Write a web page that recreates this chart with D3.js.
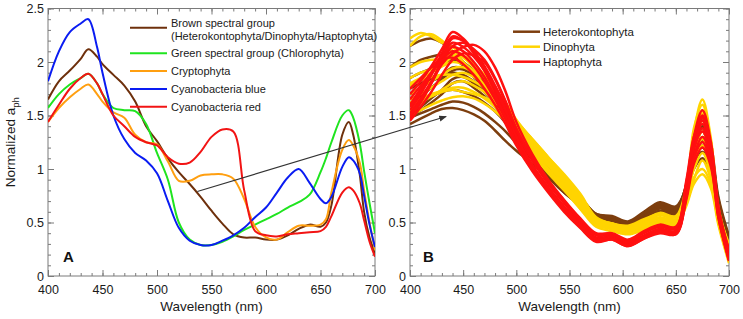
<!DOCTYPE html>
<html>
<head>
<meta charset="utf-8">
<script src="https://cdnjs.cloudflare.com/ajax/libs/d3/7.8.5/d3.min.js"></script>
<style>
body{margin:0;background:#fff;}
svg{display:block;font-family:"Liberation Sans",Arial,sans-serif;}
</style>
</head>
<body>
<div id="chart"></div>
<script>
// panel A: mean spectra per spectral group
const wlA = [400,410,420,430,437,445,450,460,470,480,490,500,510,520,530,540,550,560,570,580,590,600,610,620,630,640,650,655,660,670,676,680,686,690,695,700];
const brownA = [1.65,1.82,1.92,2.03,2.12,2.05,1.98,1.88,1.78,1.63,1.40,1.26,1.10,0.97,0.86,0.74,0.61,0.49,0.39,0.36,0.36,0.34,0.34,0.38,0.44,0.48,0.46,0.50,0.66,1.32,1.44,1.32,0.95,0.60,0.36,0.21];
const greenA = [1.57,1.70,1.79,1.85,1.89,1.80,1.70,1.57,1.55,1.54,1.42,1.15,0.90,0.50,0.34,0.29,0.29,0.32,0.37,0.43,0.48,0.53,0.58,0.64,0.69,0.76,0.97,1.10,1.25,1.50,1.55,1.48,1.24,0.98,0.68,0.40];
const cryptoA = [1.44,1.57,1.67,1.75,1.79,1.70,1.63,1.53,1.48,1.32,1.25,1.23,1.07,0.89,0.89,0.94,0.95,0.95,0.91,0.72,0.46,0.36,0.34,0.41,0.47,0.47,0.48,0.53,0.78,1.18,1.27,1.22,1.06,0.80,0.50,0.24];
const cyanoBlueA = [1.82,2.10,2.28,2.36,2.40,2.14,1.90,1.50,1.28,1.15,1.08,0.96,0.70,0.45,0.33,0.29,0.29,0.33,0.38,0.45,0.55,0.64,0.78,0.92,1.00,0.87,0.72,0.68,0.74,1.02,1.11,1.08,0.96,0.75,0.48,0.27];
const cyanoRedA = [1.44,1.60,1.75,1.85,1.89,1.80,1.70,1.50,1.40,1.30,1.25,1.22,1.11,1.05,1.06,1.16,1.30,1.37,1.35,0.80,0.42,0.38,0.37,0.39,0.40,0.41,0.42,0.46,0.56,0.78,0.83,0.80,0.68,0.52,0.32,0.18];
const namesA = ["Brown spectral group", "Green spectral group (Chlorophyta)", "Cryptophyta", "Cyanobacteria blue", "Cyanobacteria red"];
const subNameA = "(Heterokontophyta/Dinophyta/Haptophyta)";

// panel B: individual spectra
const wlB = [400,410,420,430,440,450,460,470,480,490,500,515,530,545,560,575,590,605,620,635,650,660,667,675,683,690,700];
const heteroB = [
  [1.42,1.47,1.52,1.56,1.57,1.55,1.51,1.45,1.36,1.26,1.17,1.05,0.92,0.78,0.66,0.54,0.52,0.46,0.54,0.60,0.58,0.76,1.00,1.10,0.95,0.60,0.30],
  [1.48,1.52,1.56,1.60,1.63,1.62,1.58,1.52,1.44,1.35,1.24,1.09,0.95,0.82,0.70,0.56,0.54,0.48,0.57,0.65,0.62,0.80,1.06,1.16,0.99,0.62,0.31],
  [1.55,1.62,1.68,1.72,1.74,1.72,1.68,1.62,1.54,1.43,1.28,1.10,0.95,0.81,0.69,0.56,0.54,0.48,0.56,0.64,0.61,0.80,1.12,1.26,1.06,0.66,0.32],
  [1.70,1.76,1.82,1.86,1.90,1.88,1.82,1.75,1.66,1.53,1.36,1.16,1.01,0.86,0.73,0.58,0.55,0.50,0.58,0.66,0.63,0.82,1.20,1.38,1.15,0.70,0.34],
  [1.85,1.90,1.94,1.98,2.02,1.97,1.88,1.79,1.68,1.54,1.36,1.14,0.98,0.84,0.71,0.56,0.54,0.48,0.57,0.65,0.62,0.86,1.26,1.46,1.20,0.72,0.35],
  [2.15,2.20,2.22,2.18,2.10,2.00,1.90,1.80,1.68,1.52,1.34,1.12,0.96,0.82,0.69,0.55,0.53,0.47,0.55,0.63,0.60,0.80,1.18,1.35,1.12,0.68,0.32],
  [1.60,1.68,1.76,1.84,1.92,1.93,1.86,1.77,1.66,1.50,1.32,1.10,0.94,0.79,0.67,0.53,0.51,0.46,0.54,0.61,0.59,0.76,1.08,1.22,1.02,0.64,0.31],
  [1.48,1.55,1.62,1.70,1.80,1.82,1.76,1.68,1.58,1.46,1.30,1.13,1.00,0.86,0.74,0.58,0.56,0.51,0.60,0.69,0.65,0.84,1.22,1.40,1.16,0.70,0.36],
  [1.95,2.02,2.05,2.07,2.06,2.00,1.92,1.83,1.72,1.57,1.38,1.15,0.99,0.84,0.71,0.57,0.55,0.49,0.58,0.67,0.63,0.86,1.28,1.50,1.24,0.74,0.37],
  [1.75,1.80,1.84,1.88,1.95,1.94,1.86,1.76,1.64,1.48,1.30,1.09,0.93,0.78,0.66,0.53,0.51,0.46,0.53,0.60,0.58,0.78,1.12,1.30,1.08,0.66,0.33],
  [1.50,1.58,1.66,1.74,1.84,1.86,1.80,1.72,1.62,1.50,1.33,1.14,0.99,0.85,0.72,0.57,0.55,0.50,0.59,0.68,0.64,0.82,1.10,1.20,1.02,0.65,0.32]
];
const dinoB = [
  [2.22,2.27,2.24,2.18,2.14,2.05,1.95,1.83,1.70,1.55,1.38,1.18,1.00,0.84,0.66,0.50,0.46,0.43,0.48,0.54,0.51,0.78,1.20,1.45,1.15,0.60,0.22],
  [2.15,2.24,2.26,2.20,2.10,2.00,1.90,1.78,1.65,1.50,1.34,1.14,0.96,0.80,0.63,0.48,0.44,0.41,0.46,0.51,0.48,0.75,1.25,1.55,1.20,0.58,0.18],
  [1.80,1.85,1.90,1.96,2.05,2.06,1.98,1.88,1.75,1.60,1.42,1.22,1.04,0.88,0.70,0.53,0.48,0.45,0.50,0.57,0.53,0.82,1.35,1.65,1.28,0.62,0.20],
  [1.70,1.76,1.82,1.88,1.94,1.95,1.90,1.83,1.72,1.58,1.42,1.23,1.06,0.90,0.72,0.52,0.46,0.42,0.46,0.52,0.50,0.72,1.05,1.22,1.00,0.55,0.18],
  [1.55,1.62,1.68,1.74,1.80,1.82,1.78,1.72,1.63,1.52,1.38,1.20,1.03,0.86,0.68,0.49,0.44,0.40,0.44,0.49,0.47,0.66,0.86,0.95,0.82,0.48,0.12],
  [1.62,1.66,1.70,1.73,1.76,1.76,1.72,1.66,1.58,1.47,1.34,1.16,0.98,0.81,0.63,0.46,0.42,0.39,0.43,0.47,0.45,0.70,0.92,1.00,0.86,0.50,0.14],
  [1.85,1.90,1.93,1.96,2.00,1.98,1.92,1.84,1.74,1.62,1.46,1.27,1.09,0.93,0.75,0.54,0.49,0.46,0.52,0.58,0.55,0.80,1.30,1.52,1.22,0.62,0.25],
  [1.50,1.55,1.60,1.64,1.67,1.68,1.66,1.61,1.54,1.45,1.33,1.17,1.00,0.83,0.65,0.48,0.44,0.40,0.45,0.50,0.48,0.68,0.90,1.08,0.90,0.52,0.16],
  [1.95,2.00,2.02,2.03,2.08,2.04,1.96,1.86,1.74,1.60,1.44,1.25,1.07,0.91,0.73,0.54,0.49,0.46,0.52,0.59,0.56,0.84,1.38,1.60,1.26,0.64,0.28],
  [1.78,1.83,1.86,1.88,1.88,1.86,1.82,1.76,1.68,1.58,1.45,1.28,1.11,0.95,0.77,0.55,0.49,0.47,0.53,0.58,0.55,0.78,1.15,1.35,1.10,0.60,0.30],
  [1.65,1.70,1.76,1.82,1.88,1.90,1.86,1.79,1.70,1.58,1.43,1.24,1.06,0.89,0.70,0.51,0.46,0.43,0.48,0.54,0.51,0.76,1.12,1.28,1.05,0.56,0.20],
  [1.60,1.64,1.68,1.72,1.74,1.72,1.70,1.67,1.62,1.54,1.43,1.28,1.11,0.94,0.76,0.54,0.48,0.45,0.49,0.55,0.52,0.74,1.00,1.15,0.95,0.54,0.16]
];
const haptoB = [
  [1.48,1.62,1.80,2.02,2.22,2.20,2.10,1.96,1.78,1.58,1.34,1.08,0.86,0.68,0.50,0.36,0.37,0.31,0.38,0.44,0.42,0.85,1.25,1.45,1.20,0.62,0.18],
  [1.55,1.70,1.88,2.08,2.24,2.20,2.08,1.92,1.72,1.50,1.26,1.00,0.80,0.62,0.46,0.33,0.35,0.29,0.36,0.42,0.40,0.80,1.30,1.55,1.25,0.65,0.16],
  [1.60,1.75,1.90,2.05,2.18,2.14,2.05,1.92,1.75,1.54,1.30,1.04,0.83,0.65,0.48,0.35,0.36,0.30,0.37,0.43,0.41,0.78,1.18,1.38,1.15,0.58,0.15],
  [1.70,1.82,1.96,2.12,2.28,2.22,2.10,1.95,1.76,1.55,1.30,1.03,0.82,0.64,0.47,0.34,0.35,0.29,0.37,0.44,0.42,0.82,1.22,1.42,1.18,0.60,0.20],
  [1.45,1.58,1.72,1.88,2.02,2.08,2.06,2.00,1.84,1.62,1.37,1.10,0.88,0.70,0.52,0.38,0.38,0.32,0.40,0.46,0.44,0.88,1.28,1.50,1.22,0.64,0.22],
  [1.65,1.78,1.90,2.02,2.10,2.06,1.96,1.82,1.65,1.46,1.24,1.00,0.80,0.62,0.46,0.33,0.34,0.28,0.35,0.40,0.39,0.72,1.05,1.20,1.02,0.55,0.14],
  [1.52,1.66,1.82,2.00,2.15,2.18,2.12,2.02,1.85,1.63,1.38,1.11,0.89,0.70,0.53,0.39,0.39,0.33,0.41,0.47,0.45,0.86,1.20,1.35,1.12,0.60,0.25],
  [1.75,1.85,1.95,2.05,2.14,2.10,2.00,1.86,1.68,1.48,1.25,1.01,0.81,0.63,0.47,0.34,0.35,0.29,0.36,0.42,0.40,0.76,1.12,1.30,1.10,0.57,0.17],
  [1.50,1.64,1.80,1.98,2.08,2.14,2.16,2.10,1.95,1.72,1.44,1.14,0.90,0.71,0.54,0.40,0.40,0.34,0.42,0.48,0.46,0.90,1.30,1.48,1.20,0.63,0.24],
  [1.58,1.72,1.88,2.02,2.04,1.98,1.88,1.75,1.60,1.42,1.22,0.98,0.78,0.60,0.45,0.32,0.34,0.28,0.35,0.41,0.39,0.74,1.10,1.25,1.05,0.55,0.15]
];
const namesB = ["Heterokontophyta", "Dinophyta", "Haptophyta"];

const xTicks = [400,450,500,550,600,650,700];
const yTicks = [0,0.5,1,1.5,2,2.5];
// arrow annotation: from panel A (nm, value) to panel B (nm, value)
const arrowFrom = [537, 0.79];
const arrowTo = [434, 1.49];

function crtajSpektre()
{
    const sirina = 743, visina = 319;
    const vrh = 8.5, dno = 276;

    const svg = d3.select("#chart")
        .append("svg")
        .attr("width", sirina)
        .attr("height", visina);

    const y = d3.scaleLinear().domain([0, 2.5]).range([dno, vrh]);
    const xA = d3.scaleLinear().domain([400, 700]).range([48, 375]);
    const xB = d3.scaleLinear().domain([400, 700]).range([410, 729]);

    const defs = svg.append("defs");
    defs.append("marker")
        .attr("id", "strelica")
        .attr("viewBox", "0 0 10 10")
        .attr("refX", 9).attr("refY", 5)
        .attr("markerWidth", 7).attr("markerHeight", 7)
        .attr("orient", "auto")
        .append("path")
        .attr("d", "M0,1 L10,5 L0,9 Z")
        .attr("fill", "#333");

    function okvir(x, id, letter)
    {
        const [x0, x1] = x.range();
        defs.append("clipPath").attr("id", id)
            .append("rect")
            .attr("x", x0).attr("y", vrh)
            .attr("width", x1 - x0).attr("height", dno - vrh);

        const tickStil = g => {
            g.select(".domain").remove();
            g.selectAll("line").attr("stroke", "#7a7a7a");
            g.selectAll("text").attr("fill", "#1a1a1a").attr("font-size", 12.5)
                .attr("font-family", "'Liberation Sans', Arial, sans-serif");
        };

        // bottom: major with labels, minor every 10 nm
        svg.append("g").attr("transform", `translate(0,${dno})`)
            .call(d3.axisBottom(x).tickValues(xTicks).tickSize(-6).tickPadding(9).tickFormat(d => d))
            .call(tickStil);
        svg.append("g").attr("transform", `translate(0,${dno})`)
            .call(d3.axisBottom(x).tickValues(d3.range(400, 701, 10)).tickSize(-3).tickFormat(""))
            .call(tickStil);
        // top
        svg.append("g").attr("transform", `translate(0,${vrh})`)
            .call(d3.axisTop(x).tickValues(xTicks).tickSize(-6).tickFormat(""))
            .call(tickStil);
        svg.append("g").attr("transform", `translate(0,${vrh})`)
            .call(d3.axisTop(x).tickValues(d3.range(400, 701, 10)).tickSize(-3).tickFormat(""))
            .call(tickStil);
        // left
        svg.append("g").attr("transform", `translate(${x0},0)`)
            .call(d3.axisLeft(y).tickValues(yTicks).tickSize(-6).tickPadding(4).tickFormat(d => d))
            .call(tickStil);
        svg.append("g").attr("transform", `translate(${x0},0)`)
            .call(d3.axisLeft(y).tickValues(d3.range(0, 2.51, 0.1)).tickSize(-3).tickFormat(""))
            .call(tickStil);
        // right
        svg.append("g").attr("transform", `translate(${x1},0)`)
            .call(d3.axisRight(y).tickValues(yTicks).tickSize(-6).tickFormat(""))
            .call(tickStil);
        svg.append("g").attr("transform", `translate(${x1},0)`)
            .call(d3.axisRight(y).tickValues(d3.range(0, 2.51, 0.1)).tickSize(-3).tickFormat(""))
            .call(tickStil);

        svg.append("rect")
            .attr("x", x0).attr("y", vrh)
            .attr("width", x1 - x0).attr("height", dno - vrh)
            .attr("fill", "none")
            .attr("stroke", "#7a7a7a")
            .attr("stroke-width", 1);

        svg.append("text")
            .attr("x", (x0 + x1) / 2)
            .attr("y", 311)
            .attr("text-anchor", "middle")
            .attr("font-size", 13.5)
            .attr("fill", "#1a1a1a")
            .text("Wavelength (nm)");

        svg.append("text")
            .attr("x", x0 + (letter == "A" ? 15 : 13))
            .attr("y", 262)
            .attr("font-size", 15)
            .attr("font-weight", "bold")
            .attr("fill", "#111")
            .text(letter);
    }

    okvir(xA, "klipA", "A");
    okvir(xB, "klipB", "B");

    // y title
    const naslov = svg.append("text")
        .attr("transform", `translate(15,${(vrh + dno) / 2}) rotate(-90)`)
        .attr("text-anchor", "middle")
        .attr("font-size", 13.5)
        .attr("fill", "#1a1a1a");
    naslov.append("tspan").text("Normalized a");
    naslov.append("tspan").attr("dy", 4).attr("font-size", 9.5).text("ph");

    // panel A lines
    const linijaA = d3.line()
        .x((d, i) => xA(wlA[i]))
        .y(d => y(d))
        .curve(d3.curveCatmullRom.alpha(0.5));

    const seriesA = [brownA, greenA, cryptoA, cyanoBlueA, cyanoRedA];
    const bojeA = ["#6e300c", "#1fe41f", "#ff9f10", "#0a1cf2", "#f21414"];

    svg.append("g")
        .attr("clip-path", "url(#klipA)")
        .selectAll("path")
        .data(seriesA)
        .enter()
        .append("path")
        .attr("d", linijaA)
        .attr("fill", "none")
        .attr("stroke", (d, i) => bojeA[i])
        .attr("stroke-width", 2);

    // panel B lines
    const linijaB = d3.line()
        .x((d, i) => xB(wlB[i]))
        .y(d => y(d))
        .curve(d3.curveCatmullRom.alpha(0.5));

    const grupe = [heteroB, dinoB, haptoB];
    const bojeB = ["#7d3e0e", "#ffd400", "#ff1010"];

    const gB = svg.append("g").attr("clip-path", "url(#klipB)");
    grupe.forEach((grupa, gi) => {
        gB.append("g")
            .selectAll("path")
            .data(grupa)
            .enter()
            .append("path")
            .attr("d", linijaB)
            .attr("fill", "none")
            .attr("stroke", bojeB[gi])
            .attr("stroke-width", 2.5);
    });

    // legend A
    const legA = svg.append("g");
    const redoviA = [27.7, 53.3, 71, 89, 106.7];
    const tekstA = [23.3, 53.3, 71, 89, 106.7];
    namesA.forEach((ime, i) => {
        legA.append("line")
            .attr("x1", 130).attr("x2", 167)
            .attr("y1", redoviA[i]).attr("y2", redoviA[i])
            .attr("stroke", bojeA[i])
            .attr("stroke-width", 2);
        legA.append("text")
            .attr("x", 171).attr("y", tekstA[i])
            .attr("dy", "0.35em")
            .attr("font-size", 11)
            .attr("fill", "#1a1a1a")
            .text(ime);
    });
    legA.append("text")
        .attr("x", 171).attr("y", 36.5)
        .attr("dy", "0.35em")
        .attr("font-size", 11)
        .attr("fill", "#1a1a1a")
        .text(subNameA);

    // legend B
    const legB = svg.append("g");
    const redoviB = [31.7, 46.7, 61.7];
    namesB.forEach((ime, i) => {
        legB.append("line")
            .attr("x1", 513).attr("x2", 540)
            .attr("y1", redoviB[i]).attr("y2", redoviB[i])
            .attr("stroke", bojeB[i])
            .attr("stroke-width", 2.5);
        legB.append("text")
            .attr("x", 543).attr("y", redoviB[i])
            .attr("dy", "0.35em")
            .attr("font-size", 11.5)
            .attr("fill", "#1a1a1a")
            .text(ime);
    });

    // arrow between panels
    svg.append("line")
        .attr("x1", xA(arrowFrom[0])).attr("y1", y(arrowFrom[1]))
        .attr("x2", xB(arrowTo[0])).attr("y2", y(arrowTo[1]))
        .attr("stroke", "#333")
        .attr("stroke-width", 1.1)
        .attr("marker-end", "url(#strelica)");
}
crtajSpektre();
</script>
</body>
</html>
